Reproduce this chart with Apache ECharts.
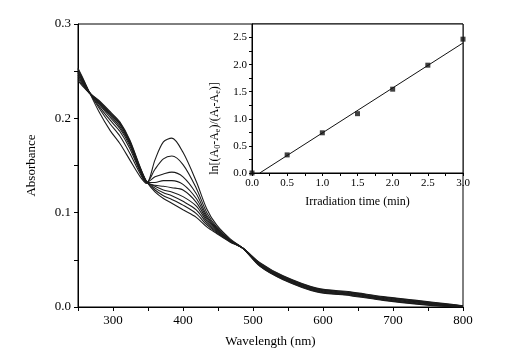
<!DOCTYPE html>
<html>
<head>
<meta charset="utf-8">
<script src="https://cdn.jsdelivr.net/npm/echarts@6/dist/echarts.min.js"></script>
<style>
html,body{margin:0;padding:0;background:#fff;}
#main{width:505px;height:360px;}
</style>
</head>
<body>
<div id="main"></div>
<script>
// wavelength points (nm)
var wl = [250,258,266,280,296,310,324,339,348,360,372,384,400,419,434,448,467,486,510,543,591,639,686,734,781,800];

// absorbance spectra, from highest 384nm peak down
var s0 = [0.253,0.241,0.228,0.207,0.187,0.173,0.156,0.138,0.131,0.156,0.175,0.179,0.164,0.133,0.104,0.087,0.0725,0.062,0.043,0.029,0.016,0.012,0.007,0.003,0.0003,0.0];
var s1 = [0.252,0.240,0.228,0.211,0.194,0.181,0.163,0.141,0.132,0.146,0.157,0.160,0.151,0.126,0.100,0.085,0.0715,0.062,0.0435,0.0295,0.0165,0.0125,0.0075,0.0035,0.0006,0.0001];
var s2 = [0.250,0.239,0.228,0.213,0.198,0.186,0.168,0.143,0.132,0.138,0.141,0.143,0.138,0.120,0.097,0.084,0.071,0.062,0.044,0.030,0.017,0.013,0.008,0.004,0.001,0.0002];
var s3 = [0.249,0.238,0.228,0.215,0.201,0.189,0.171,0.144,0.132,0.132,0.134,0.134,0.130,0.115,0.095,0.083,0.0705,0.062,0.0445,0.0305,0.0175,0.0135,0.0085,0.0045,0.0013,0.0003];
var s4 = [0.248,0.237,0.228,0.216,0.203,0.191,0.173,0.145,0.132,0.129,0.128,0.1265,0.124,0.111,0.093,0.082,0.070,0.062,0.045,0.031,0.018,0.014,0.009,0.005,0.0016,0.0005];
var s5 = [0.246,0.236,0.227,0.217,0.204,0.193,0.174,0.146,0.132,0.128,0.124,0.122,0.117,0.107,0.091,0.081,0.0705,0.062,0.0455,0.0315,0.0185,0.0145,0.0095,0.0055,0.002,0.0007];
var s6 = [0.244,0.235,0.227,0.218,0.205,0.194,0.175,0.147,0.133,0.126,0.121,0.118,0.112,0.103,0.089,0.080,0.070,0.062,0.046,0.032,0.019,0.015,0.010,0.006,0.0023,0.0009];
var s7 = [0.242,0.234,0.227,0.218,0.206,0.195,0.176,0.147,0.133,0.124,0.118,0.114,0.108,0.099,0.087,0.079,0.0695,0.062,0.0465,0.0325,0.0195,0.0155,0.0105,0.0065,0.0026,0.0011];
var s8 = [0.240,0.233,0.227,0.219,0.207,0.196,0.177,0.148,0.133,0.122,0.115,0.110,0.103,0.095,0.085,0.078,0.069,0.062,0.047,0.033,0.020,0.016,0.011,0.007,0.003,0.0013];
var spectra = [s0,s1,s2,s3,s4,s5,s6,s7,s8];

// inset: irradiation time vs ln[(A0-Ae)/(At-Ae)]
var timeMin = [0,0.5,1.0,1.5,2.0,2.5,3.0];
var lnRatio = [0,0.334,0.742,1.095,1.547,1.99,2.47];
// fitted line ends
var fitX = [0.11,3.0];
var fitY = [0,2.40];

var serif = 'Liberation Serif';

function pairs(xs, ys){
	var out = [];
	for (var i = 0; i < xs.length; i++) {
		out.push([xs[i], ys[i]]);
	}
	return out;
}

// only label every other tick
function everyOther(step, digits){
	return function(v){
		var k = v / step;
		if (Math.abs(k - Math.round(k)) < 1e-6) {
			return digits == null ? String(Math.round(v)) : v.toFixed(digits);
		}
		return '';
	};
}

var axisBase = {
	axisLine: {show: true, onZero: false, lineStyle: {color: '#000', width: 1}},
	axisTick: {show: true, inside: false, length: 4, lineStyle: {color: '#000'}},
	splitLine: {show: false}
};

var series = [];
for (var i = 0; i < spectra.length; i++) {
	series.push({
		type: 'line',
		xAxisIndex: 0,
		yAxisIndex: 0,
		data: pairs(wl, spectra[i]),
		smooth: 0.3,
		showSymbol: false,
		lineStyle: {color: '#1c1c1c', width: 1.1},
		silent: true
	});
}
series.push({
	type: 'line',
	xAxisIndex: 1,
	yAxisIndex: 1,
	data: pairs(fitX, fitY),
	showSymbol: false,
	lineStyle: {color: '#111', width: 1},
	silent: true
});
series.push({
	type: 'scatter',
	xAxisIndex: 1,
	yAxisIndex: 1,
	data: pairs(timeMin, lnRatio),
	symbol: 'rect',
	symbolSize: 5,
	itemStyle: {color: '#111'},
	silent: true
});

var myChart = echarts.init(document.getElementById('main'));
myChart.setOption({
	animation: false,
	backgroundColor: '#fff',
	grid: [
		{left: 78, top: 24, right: 42, bottom: 53, show: true, borderColor: '#000', borderWidth: 1, backgroundColor: 'transparent'},
		{left: 252, top: 24, right: 42, bottom: 187, show: true, borderColor: '#000', borderWidth: 1, backgroundColor: '#fff'}
	],
	xAxis: [
		Object.assign({}, axisBase, {
			gridIndex: 0, type: 'value', min: 250, max: 800, interval: 50,
			name: 'Wavelength (nm)', nameLocation: 'middle', nameGap: 28,
			nameTextStyle: {fontFamily: serif, fontSize: 13, color: '#000', verticalAlign: 'top'},
			axisLabel: {fontFamily: serif, fontSize: 13, color: '#000', margin: 7, formatter: everyOther(100)}
		}),
		Object.assign({}, axisBase, {
			gridIndex: 1, type: 'value', min: 0, max: 3, interval: 0.25,
			name: 'Irradiation time (min)', nameLocation: 'middle', nameGap: 23,
			nameTextStyle: {fontFamily: serif, fontSize: 12, color: '#000', verticalAlign: 'top'},
			axisTick: {show: true, inside: false, length: 3, lineStyle: {color: '#000'}},
			axisLabel: {fontFamily: serif, fontSize: 11, color: '#000', margin: 5, formatter: everyOther(0.5, 1)}
		})
	],
	yAxis: [
		Object.assign({}, axisBase, {
			gridIndex: 0, type: 'value', min: 0, max: 0.3, interval: 0.05,
			name: 'Absorbance', nameLocation: 'middle', nameGap: 40,
			nameTextStyle: {fontFamily: serif, fontSize: 13, color: '#000'},
			axisLabel: {fontFamily: serif, fontSize: 13, color: '#000', margin: 7, formatter: everyOther(0.1, 1)}
		}),
		Object.assign({}, axisBase, {
			gridIndex: 1, type: 'value', min: 0, max: 2.75, interval: 0.25,
			name: 'ln[(A{s|0}-A{s|e})/(A{s|t}-A{s|e})]', nameLocation: 'middle', nameGap: 30,
			nameTextStyle: {
				fontFamily: serif, fontSize: 12, color: '#000', padding: [0, 60, 0, 0],
				rich: {s: {fontFamily: serif, fontSize: 8, color: '#000', verticalAlign: 'bottom', padding: [6, 0, 0, 0]}}
			},
			axisTick: {show: true, inside: false, length: 3, lineStyle: {color: '#000'}},
			axisLabel: {fontFamily: serif, fontSize: 11, color: '#000', margin: 5, showMaxLabel: false, formatter: everyOther(0.5, 1)}
		})
	],
	series: series
});
</script>
</body>
</html>
